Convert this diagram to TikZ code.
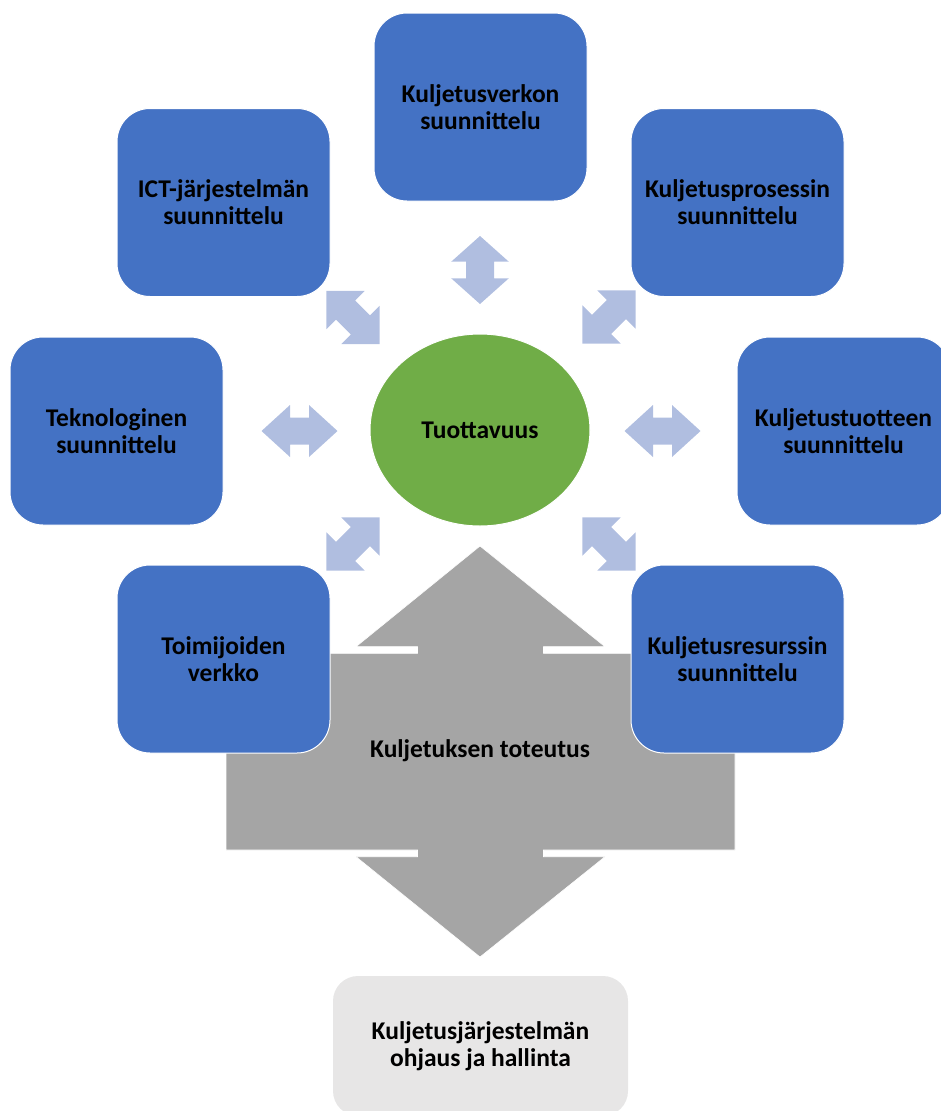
\documentclass[tikz,border=0pt]{standalone}
\usepackage{fontspec}
\setmainfont{Carlito}
\usetikzlibrary{shapes.geometric}
\definecolor{boxblue}{HTML}{4472C4}
\definecolor{ellgreen}{HTML}{70AD47}
\definecolor{arrblue}{HTML}{B0BEE0}
\definecolor{bigarrgray}{HTML}{A5A5A5}
\definecolor{ctrlgray}{HTML}{E7E6E6}
\tikzset{
  txt/.style={font=\bfseries\fontsize{25.5}{27}\selectfont, text=black, align=center},
  bluebox/.style={txt, rectangle, rounded corners=33pt, fill=boxblue, draw=white, line width=1pt,
    minimum width=213pt, minimum height=188pt, inner sep=0pt},
  ctrlbox/.style={txt, rectangle, rounded corners=25pt, fill=ctrlgray,
    minimum width=295pt, minimum height=140pt, inner sep=0pt},
  centre/.style={txt, ellipse, fill=ellgreen, draw=white, line width=1pt,
    minimum width=220pt, minimum height=192pt, inner sep=0pt},
  arrowfill/.style={fill=arrblue},
  bigarrow/.style={fill=bigarrgray, draw=white, line width=0.6pt},
  pics/dblarrow/.style args={#1/#2/#3/#4}{code={
    \fill[arrowfill] (-#1/2,0) -- (-#1/2+#2,-#3/2) -- (-#1/2+#2,-#4/2) -- (#1/2-#2,-#4/2)
      -- (#1/2-#2,-#3/2) -- (#1/2,0) -- (#1/2-#2,#3/2) -- (#1/2-#2,#4/2)
      -- (-#1/2+#2,#4/2) -- (-#1/2+#2,#3/2) -- cycle;}}
}
\begin{document}
\begin{tikzpicture}[x=1pt,y=-1pt]
\useasboundingbox (0,0) rectangle (941,1111);
\clip (0,0) rectangle (941,1111);

% big grey double arrow with body
\path[bigarrow] (480,546) -- (605,646.7) -- (543.5,646.7) -- (543.5,653.3) -- (735,653.3)
  -- (735,850) -- (543.5,850) -- (543.5,856.7) -- (605,856.7) -- (480,957)
  -- (356,856.7) -- (417.5,856.7) -- (417.5,850) -- (226,850) -- (226,653.3)
  -- (417.5,653.3) -- (417.5,646.7) -- (356,646.7) -- cycle;
\node[txt] (tot) at (480,751) {Kuljetuksen toteutus};

% planning boxes
\node[bluebox] (verkko)  at (480.5,107)   {Kuljetusverkon\\suunnittelu};
\node[bluebox] (ict)     at (223.5,202.5) {ICT-järjestelmän\\suunnittelu};
\node[bluebox] (prosess) at (737.5,202.5) {Kuljetusprosessin\\suunnittelu};
\node[bluebox] (tekno)   at (116.5,431)   {Teknologinen\\suunnittelu};
\node[bluebox] (tuote)   at (843.5,431)   {Kuljetustuotteen\\suunnittelu};
\node[bluebox] (toimij)  at (223.5,659)   {Toimijoiden\\verkko};
\node[bluebox] (resurs)  at (737.5,659)   {Kuljetusresurssin\\suunnittelu};

% centre
\node[centre] (tuott) at (480,430) {Tuottavuus};

% control box
\node[ctrlbox] (ohjaus) at (480.5,1046) {Kuljetusjärjestelmän\\ohjaus ja hallinta};

% double arrows
\pic[rotate=90]  at (480,270)   {dblarrow=68/25.7/57.6/28};
\pic             at (299.5,431) {dblarrow=76/28.5/52/27};
\pic             at (662.5,431) {dblarrow=76/28.5/52/27};
\pic[rotate=-45] at (353,317.5) {dblarrow=75/27/54/27};
\pic[rotate=45]  at (609,317)   {dblarrow=75/27/54/27};
\pic[rotate=45]  at (353,544)   {dblarrow=75/27/54/27};
\pic[rotate=-45] at (609,544)   {dblarrow=75/27/54/27};
\end{tikzpicture}
\end{document}
